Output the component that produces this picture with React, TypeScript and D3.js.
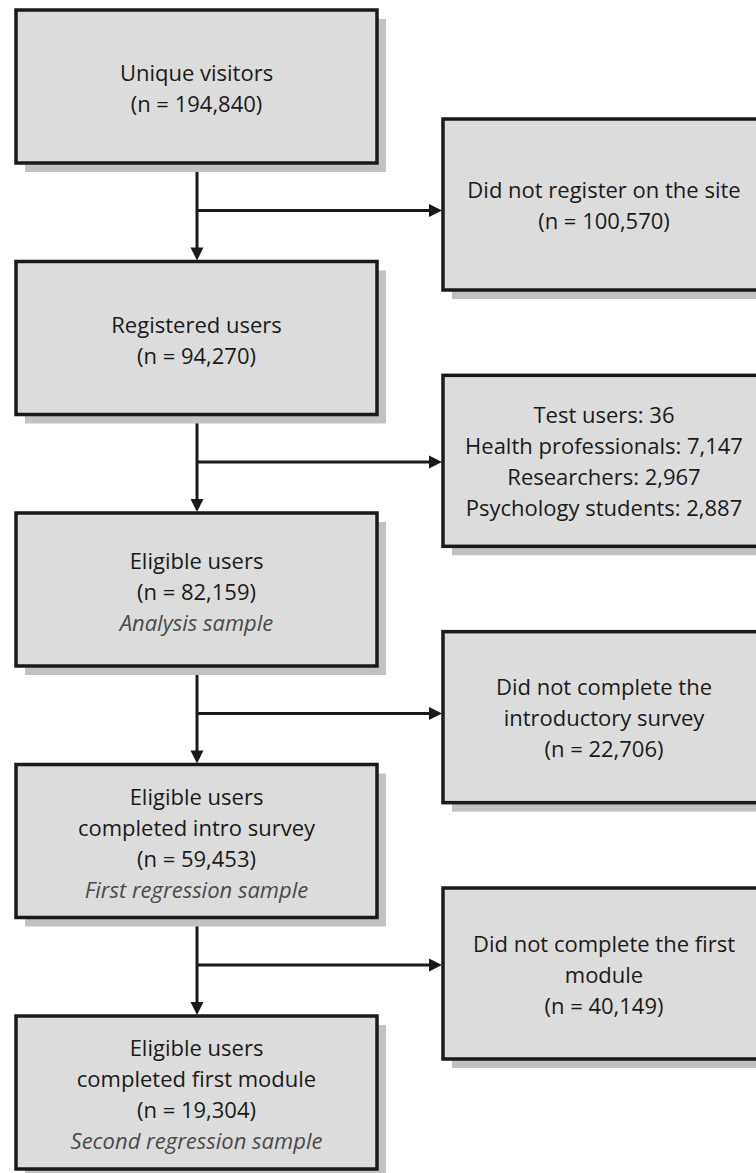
import React from "react";
import * as d3 from "d3";

// main flow (left column)
const stageLabels: string[][] = [
  ["Unique visitors"],
  ["Registered users"],
  ["Eligible users"],
  ["Eligible users", "completed intro survey"],
  ["Eligible users", "completed first module"],
];
const stageCounts: string[] = ["194,840", "94,270", "82,159", "59,453", "19,304"];
const stageNotes: string[] = ["", "", "Analysis sample", "First regression sample", "Second regression sample"];

// exclusions (right column)
const exclusionLabels: string[][] = [
  ["Did not register on the site"],
  ["Test users: 36", "Health professionals: 7,147", "Researchers: 2,967", "Psychology students: 2,887"],
  ["Did not complete the", "introductory survey"],
  ["Did not complete the first", "module"],
];
const exclusionCounts: string[] = ["100,570", "", "22,706", "40,149"];

const W = 756;
const H = 1173;
const FILL = "#dcdcdc";
const SHADOW = "#c2c2c2";
const INK = "#1a1a1a";
const FONT = "'Open Sans', sans-serif";

const App: React.FC = () => {
  const boxH = 153;
  const sideH = 171;
  const leftX = 16;
  const leftW = 361;
  const rightX = 443;
  const rightW = 324;
  const shadow = 9;
  const lineH = 31;
  const fontSize = 22;

  // row positions
  const y = d3.scaleLinear().domain([0, stageLabels.length - 1]).range([10, 1016]);
  const yr = d3.scaleLinear().domain([0, exclusionLabels.length - 1]).range([119, 888]);
  const axisX = leftX + leftW / 2 + 0.5;

  const lines = (i: number) => {
    const out: { t: string; it: boolean }[] = stageLabels[i].map((t) => ({ t, it: false }));
    out.push({ t: `(n = ${stageCounts[i]})`, it: false });
    if (stageNotes[i]) out.push({ t: stageNotes[i], it: true });
    return out;
  };
  const sideLines = (i: number) => {
    const out = [...exclusionLabels[i]];
    if (exclusionCounts[i]) out.push(`(n = ${exclusionCounts[i]})`);
    return out;
  };

  const textBlock = (items: { t: string; it: boolean }[], cx: number, cy: number) =>
    items.map((d, k) => (
      <text
        key={k}
        x={cx}
        y={cy + (k - (items.length - 1) / 2) * lineH}
        textAnchor="middle"
        dominantBaseline="central"
        fontFamily={FONT}
        fontSize={fontSize}
        fontStyle={d.it ? "italic" : "normal"}
        fill={d.it ? "#4a4a4a" : INK}
      >
        {d.t}
      </text>
    ));

  const arrowHead = (tx: number, ty: number, dir: "down" | "right") => {
    const s = 13;
    const hw = 6.5;
    const pts =
      dir === "down"
        ? [[tx - hw, ty - s], [tx + hw, ty - s], [tx, ty]]
        : [[tx - s, ty - hw], [tx - s, ty + hw], [tx, ty]];
    return <path d={d3.line()(pts as [number, number][]) + "Z"} fill={INK} />;
  };

  return (
    <svg width={W} height={H} style={{ position: "absolute", left: 0, top: 0, background: "#fff" }}>
      {/* connectors */}
      {exclusionLabels.map((_, i) => {
        const top = y(i) + boxH;
        const next = y(i + 1);
        const by = top + 47.5;
        return (
          <g key={`c${i}`}>
            <line x1={axisX} x2={axisX} y1={top} y2={next - 10} stroke={INK} strokeWidth={3} />
            {arrowHead(axisX, next - 1, "down")}
            <line x1={axisX} x2={rightX - 10} y1={by} y2={by} stroke={INK} strokeWidth={3} />
            {arrowHead(rightX - 1, by, "right")}
          </g>
        );
      })}

      {/* main stages */}
      {stageLabels.map((_, i) => (
        <g key={`s${i}`}>
          <rect x={leftX + shadow} y={y(i) + shadow} width={leftW} height={boxH} fill={SHADOW} />
          <rect x={leftX} y={y(i)} width={leftW} height={boxH} fill={FILL} stroke={INK} strokeWidth={3.5} />
          {textBlock(lines(i), leftX + leftW / 2, y(i) + boxH / 2 + 1)}
        </g>
      ))}

      {/* exclusions */}
      {exclusionLabels.map((_, i) => {
        const top = yr(i);
        const cy = top + sideH / 2;
        return (
          <g key={`e${i}`}>
            <rect x={rightX + shadow} y={top + shadow} width={rightW} height={sideH} fill={SHADOW} />
            <rect x={rightX} y={top} width={rightW} height={sideH} fill={FILL} stroke={INK} strokeWidth={3.5} />
            {textBlock(
              sideLines(i).map((t) => ({ t, it: false })),
              rightX + 161,
              cy
            )}
          </g>
        );
      })}
    </svg>
  );
};

export default App;
